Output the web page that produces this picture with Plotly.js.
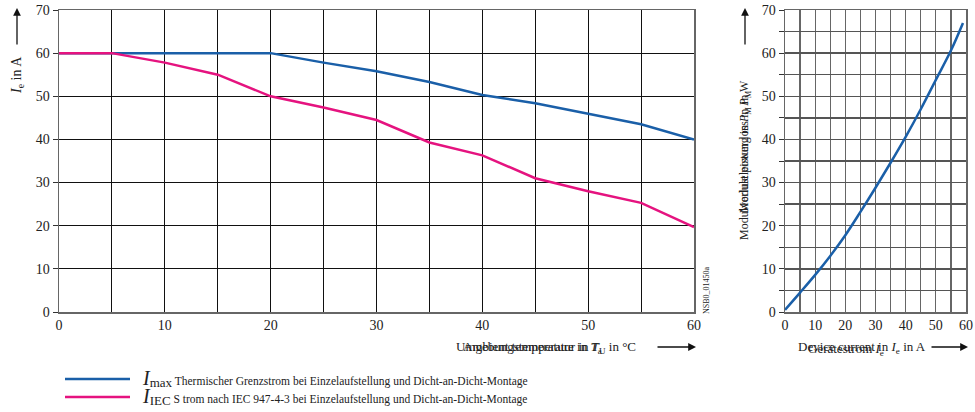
<!DOCTYPE html>
<html><head><meta charset="utf-8">
<script src="https://cdn.plot.ly/plotly-3.0.1.min.js"></script>
<style>html,body{margin:0;padding:0;background:#fff}</style>
</head><body><div id="chart" style="width:975px;height:412px"></div>
<script>
var tempX = [0, 5, 10, 15, 20, 25, 30, 35, 40, 45, 50, 55, 60];
var iMax  = [60, 60, 60, 60, 60, 57.8, 55.8, 53.3, 50.3, 48.4, 46, 43.5, 40];
var iIEC  = [60, 60, 57.8, 55, 50, 47.4, 44.5, 39.3, 36.3, 31, 28, 25.3, 19.7];
var currX = [0, 5, 10, 15, 20, 25, 30, 35, 40, 45, 50, 55, 59];
var pLoss = [0.5, 4.5, 8.6, 13, 17.8, 23.2, 28.8, 34.6, 40.6, 47, 53.8, 60.6, 67];
var tickVals = [0, 10, 20, 30, 40, 50, 60, 70];
var legendNames = ["max", "IEC"];
var legendTexts = ["Thermischer Grenzstrom bei Einzelaufstellung und Dicht-an-Dicht-Montage",
                   "S trom nach IEC 947-4-3 bei Einzelaufstellung und Dicht-an-Dicht-Montage"];

var BLUE = "#1a5fa8", PINK = "#e5137f";
var F = "Liberation Serif, Times New Roman, serif";
var x1d = [59/975, 694/975], x2d = [785/975, 966/975], yd = [1-312/412, 1-10/412];
function py(p){ return 1 - p/412; }
function px(p){ return p/975; }

var traces = [
  {x: tempX, y: iMax, xaxis:"x", yaxis:"y", mode:"lines", line:{color:BLUE, width:2.5}, hoverinfo:"skip"},
  {x: tempX, y: iIEC, xaxis:"x", yaxis:"y", mode:"lines", line:{color:PINK, width:2.5}, hoverinfo:"skip"},
  {x: currX, y: pLoss, xaxis:"x2", yaxis:"y2", mode:"lines", line:{color:BLUE, width:2.5, shape:"spline"}, hoverinfo:"skip"}
];

function ax(extra){
  return Object.assign({showgrid:true, gridcolor:"#111", gridwidth:1, zeroline:false,
    showline:true, linecolor:"#666", linewidth:1.5, mirror:true,
    ticks:"outside", ticklen:5, tickcolor:"#333",
    tickfont:{family:F, size:14, color:"#222"}, fixedrange:true}, extra);
}
var halfTicks = [0,5,10,15,20,25,30,35,40,45,50,55,60];
var halfText = ["0","","10","","20","","30","","40","","50","","60"];

function txt(x, y, text, size, extra){
  return Object.assign({xref:"paper", yref:"paper", x:px(x), y:py(y), xanchor:"center", yanchor:"middle",
    text:text, showarrow:false, font:{family:F, size:size, color:"#222"}}, extra||{});
}
function arrow(x, y, axo, ayo){
  return {xref:"paper", yref:"paper", x:px(x), y:py(y), ax:axo, ay:ayo, text:"", showarrow:true,
    arrowhead:2, arrowsize:1.2, arrowwidth:1.3, arrowcolor:"#111"};
}

var layout = {
  width:975, height:412, margin:{l:0,r:0,t:0,b:0}, showlegend:false,
  paper_bgcolor:"#fff", plot_bgcolor:"#fff", font:{family:F},
  xaxis: ax({domain:x1d, range:[0,60], tickvals:halfTicks, ticktext:halfText, anchor:"y", ticks:""}),
  yaxis: ax({domain:yd, range:[0,70], tickvals:tickVals, anchor:"x"}),
  xaxis2: ax({domain:x2d, range:[0,60], tickvals:halfTicks, ticktext:halfText, anchor:"y2", ticks:"", gridcolor:"#666", gridwidth:1.3}),
  yaxis2: ax({domain:yd, range:[0,70], tickvals:[0,5,10,15,20,25,30,35,40,45,50,55,60,65,70],
             ticktext:["0","","10","","20","","30","","40","","50","","60","","70"], anchor:"x2", gridcolor:"#555", gridwidth:1.3}),
  shapes: [
    {type:"line", xref:"paper", yref:"paper", x0:px(65), x1:px(130), y0:py(379), y1:py(379), line:{color:BLUE, width:2.5}},
    {type:"line", xref:"paper", yref:"paper", x0:px(65), x1:px(130), y0:py(397), y1:py(397), line:{color:PINK, width:2.5}}
  ],
  annotations: [
    txt(17, 75, "<i>I</i><sub>e</sub> in A", 14, {textangle:-90}),
    arrow(17, 8, 0, 38),
    txt(546, 347, "Umgebungstemperatur in <i>T</i><sub>U</sub> in °C", 13),
    txt(532, 347, "Ambient temperature in <i>T</i><sub>a</sub>", 13),
    arrow(696, 347, -40, 0),
    txt(706, 290, "NSB0_01450a", 8, {textangle:-90}),
    txt(745, 160, "Modulverlustleistung in <i>P</i><sub>M</sub> in W", 12, {textangle:-90}),
    txt(745, 152, "Module power loss in <i>P</i><sub>M</sub>", 12, {textangle:-90}),
    arrow(745, 8, 0, 38),
    txt(862, 347, "Device current in <i>I</i><sub>e</sub> in A", 13),
    txt(846, 349, "Gerätestrom <i>I</i><sub>e</sub>", 13),
    arrow(968, 347, -38, 0),
    txt(140, 378, "<i><span style='font-size:20px'>I</span></i><sub><span style='font-size:13px'>" + legendNames[0] + "</span></sub> " + legendTexts[0], 11.5, {xanchor:"left"}),
    txt(140, 396, "<i><span style='font-size:20px'>I</span></i><sub><span style='font-size:13px'>" + legendNames[1] + "</span></sub> " + legendTexts[1], 11.5, {xanchor:"left"})
  ]
};
Plotly.newPlot("chart", traces, layout, {displayModeBar:false, staticPlot:true});
</script></body></html>
